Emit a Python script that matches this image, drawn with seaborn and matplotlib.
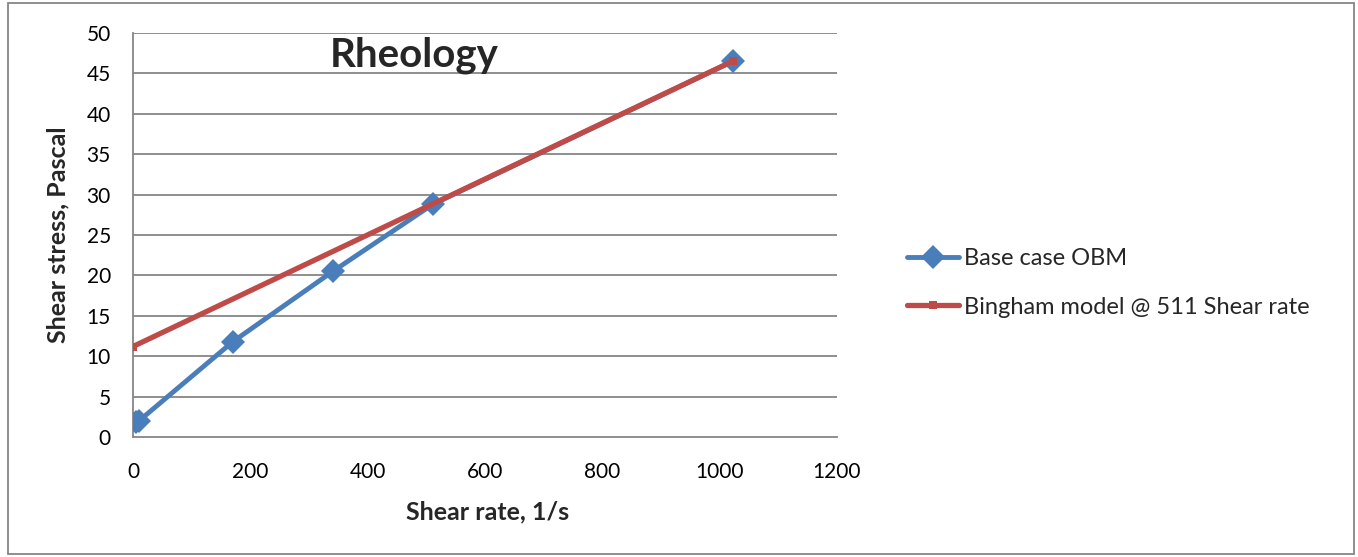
import matplotlib
matplotlib.use("Agg")
import matplotlib.pyplot as plt
from matplotlib.patches import Rectangle
import seaborn as sns
import pandas as pd

# Measured rheology (Fann viscometer shear rates)
shear_rate_obm = [5.11, 10.22, 170.3, 340.6, 511, 1022]
shear_stress_obm = [1.8, 2.0, 11.8, 20.5, 28.8, 46.5]

# Bingham plastic fit through the 511 1/s reading
shear_rate_bingham = [0, 1022]
shear_stress_bingham = [11.2, 46.5]

series_names = ["Base case OBM", "Bingham model @ 511 Shear rate"]
x_ticks = [0, 200, 400, 600, 800, 1000, 1200]
y_ticks = [0, 5, 10, 15, 20, 25, 30, 35, 40, 45, 50]

sns.set_theme(style="white")
plt.rcParams["font.family"] = ["Lato", "DejaVu Sans"]

fig = plt.figure(figsize=(13.58, 5.57), dpi=100)
ax = fig.add_axes([133 / 1358, 1 - 437 / 557, 704 / 1358, 404 / 557])

df_obm = pd.DataFrame({"x": shear_rate_obm, "y": shear_stress_obm})
df_bing = pd.DataFrame({"x": shear_rate_bingham, "y": shear_stress_bingham})

grid_col = "#868686"
for yv in y_ticks[1:]:
    ax.axhline(yv, color=grid_col, lw=1.3, zorder=0)

sns.lineplot(data=df_obm, x="x", y="y", ax=ax, color="#4A7EBB", lw=3.5,
             marker="D", markersize=12, markeredgewidth=0,
             label=series_names[0], sort=False, zorder=3)
sns.lineplot(data=df_bing, x="x", y="y", ax=ax, color="#BE4B48", lw=3.8,
             marker="s", markersize=6, markeredgewidth=0,
             label=series_names[1], sort=False, zorder=4)

ax.set_xlim(0, 1200)
ax.set_ylim(0, 50)
ax.set_xticks(x_ticks)
ax.set_yticks(y_ticks)
ax.tick_params(axis="both", labelsize=15, length=6, width=1.3,
               direction="out", colors="black")
ax.tick_params(axis="both", color=grid_col)
ax.tick_params(axis="x", pad=12)
ax.tick_params(axis="y", pad=10)
for side in ["top", "right"]:
    ax.spines[side].set_visible(False)
for side in ["left", "bottom"]:
    ax.spines[side].set_color(grid_col)
    ax.spines[side].set_linewidth(1.3)

ax.set_xlabel("Shear rate, 1/s", fontsize=18, fontweight="bold")
ax.set_ylabel("Shear stress, Pascal", fontsize=18, fontweight="bold")
ax.xaxis.set_label_coords(0.503, -0.158)
ax.yaxis.set_label_coords(-0.09, 0.5)

fig.text(414 / 1358, 1 - 67 / 557, "Rheology", fontsize=29, fontweight="bold",
         ha="center", va="baseline")

handles, labels = ax.get_legend_handles_labels()
ax.legend_.remove()
fig.legend(handles, labels, loc="center left", bbox_to_anchor=(886 / 1358, 1 - 283 / 557),
           frameon=False, fontsize=17, labelspacing=1.15, handlelength=2.2,
           handletextpad=0.2)

fig.patches.append(Rectangle((8 / 1358, 3 / 557), 1346 / 1358, 551 / 557,
                             transform=fig.transFigure, fill=False,
                             edgecolor="#868686", lw=1.3))

fig.savefig("out.png", dpi=100)
